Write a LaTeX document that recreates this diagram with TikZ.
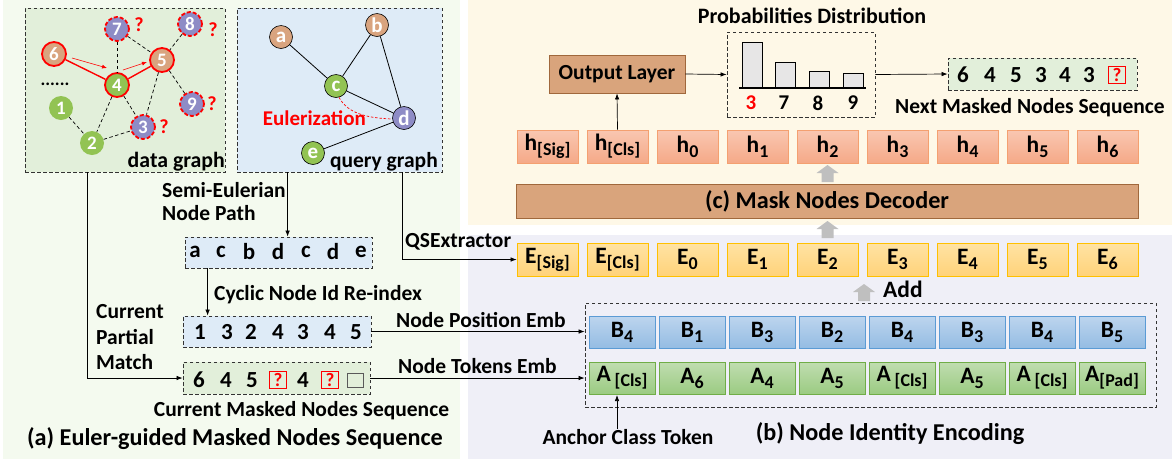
\documentclass[tikz,border=0pt]{standalone}
\usepackage{fontspec}
\setmainfont{Carlito}
\usetikzlibrary{arrows.meta,calc}

\definecolor{bgA}{HTML}{F4FAEF}
\definecolor{bgC}{HTML}{FEF8E7}
\definecolor{bgB}{HTML}{EFEFF7}
\definecolor{boxG}{HTML}{E2EFDA}
\definecolor{boxBl}{HTML}{DEEBF7}
\definecolor{tanN}{HTML}{D9A47F}
\definecolor{grnN}{HTML}{92C353}
\definecolor{purN}{HTML}{8E8CC6}
\definecolor{brownF}{HTML}{D9A47C}
\definecolor{brownD}{HTML}{A0683C}
\definecolor{hTop}{HTML}{F9C7B1}
\definecolor{hBot}{HTML}{F5A988}
\definecolor{hDr}{HTML}{F4A070}
\definecolor{eTop}{HTML}{FFE3A3}
\definecolor{eBot}{HTML}{FFD27A}
\definecolor{eDr}{HTML}{FFC000}
\definecolor{bTop}{HTML}{BDD5EE}
\definecolor{bBot}{HTML}{94BCE3}
\definecolor{bDr}{HTML}{5B9BD5}
\definecolor{aTop}{HTML}{C0DDB0}
\definecolor{aBot}{HTML}{9BCB82}
\definecolor{aDr}{HTML}{70AD47}
\definecolor{barG}{HTML}{E7E6E6}
\definecolor{arrG}{HTML}{BFBFBF}
\definecolor{qRed}{HTML}{FF0000}

\newcommand\lblfont{\fontsize{23.5}{24}\selectfont\bfseries}
\newcommand\txtfont{\fontsize{21.5}{24}\selectfont\bfseries}
\newcommand\capfont{\fontsize{24.2}{26}\selectfont\bfseries}
\newcommand\seqfont{\fontsize{23}{23}\selectfont\bfseries}
\newcommand\lowsub[1]{\raisebox{-5pt}{\fontsize{18}{18}\selectfont #1}}

\tikzset{
  arr/.style={-{Latex[length=6pt,width=4.5pt]}, line width=0.7pt, draw=black},
  dashbox/.style={draw=black!80, dash pattern=on 3.5pt off 2.5pt, line width=0.8pt, inner sep=0},
  gnode/.style={circle, inner sep=0, minimum size=24pt, text=white, font=\fontsize{19}{19}\selectfont\bfseries},
  matched/.style={draw=qRed, line width=1.8pt},
  cand/.style={draw=qRed, line width=1.8pt, dash pattern=on 4pt off 2pt},
  qnode/.style={gnode, minimum size=23pt, draw=black, line width=0.6pt, font=\fontsize{21}{21}\selectfont\bfseries},
  dedge/.style={draw=black, line width=0.7pt, dash pattern=on 3.5pt off 2.5pt},
  qedge/.style={draw=black, line width=0.8pt},
  txt/.style={font=\txtfont, inner sep=0},
  cell/.style={line width=0.8pt, inner sep=0, font=\lblfont},
  hcell/.style={cell, draw=hDr, top color=hTop, bottom color=hBot, minimum width=61pt, minimum height=33pt},
  ecell/.style={cell, draw=eDr, top color=eTop, bottom color=eBot, minimum width=61pt, minimum height=33pt},
  bcell/.style={cell, draw=bDr, top color=bTop, bottom color=bBot, minimum width=66pt, minimum height=32pt},
  acell/.style={cell, draw=aDr, top color=aTop, bottom color=aBot, minimum width=66pt, minimum height=32pt},
  brownbox/.style={draw=brownD, line width=0.9pt, fill=brownF, inner sep=0},
  qmark/.style={draw=qRed, line width=0.6pt, minimum width=17.5pt, minimum height=17pt, inner sep=0, text=qRed, font=\fontsize{19}{19}\selectfont\bfseries},
  seqitem/.style={font=\seqfont, inner sep=0},
  bar/.style={draw=black, line width=1pt, fill=barG},
  redq/.style={text=qRed, font=\fontsize{20}{20}\selectfont\bfseries, inner sep=0},
  uparrow/.pic={\fill[arrG] (-6,0) -- (-6,-9) -- (-11,-9) -- (0,-17) -- (11,-9) -- (6,-9) -- (6,0) -- cycle;}
}

\begin{document}
\begin{tikzpicture}[x=1pt,y=-1pt]
\useasboundingbox (0,0) rectangle (1172,459);

% panel backgrounds
\fill[bgA] (3,0) rectangle (460,459);
\fill[bgC] (468,0) rectangle (1172,225);
\fill[bgB] (468,235) rectangle (1172,459);

% ---------- data graph ----------
\node[dashbox, fill=boxG, minimum width=200pt, minimum height=164pt] (dg) at (125,90) {};
\node[gnode, fill=tanN, matched] (n6) at (54,54) {6};
\node[gnode, fill=purN, cand] (n7) at (117,29) {7};
\node[gnode, fill=purN, cand] (n8) at (190,24) {8};
\node[gnode, fill=tanN, matched] (n5) at (162,60) {5};
\node[gnode, fill=grnN, matched] (n4) at (117,85) {4};
\node[gnode, fill=grnN] (n1) at (61,108) {1};
\node[gnode, fill=grnN] (n2) at (92,143) {2};
\node[gnode, fill=purN, cand] (n3) at (143,127) {3};
\node[gnode, fill=purN, cand] (n9) at (192,104) {9};
\draw[dedge] (n7) -- (n4);
\draw[dedge] (n7) -- (n5);
\draw[dedge] (n8) -- (n5);
\draw[dedge] (n5) -- (n9);
\draw[dedge] (n5) -- (n3);
\draw[dedge] (n4) -- (n3);
\draw[dedge] (n4) -- (n2);
\draw[dedge] (n1) -- (n2);
\draw[dedge] (n2) -- (n3);
\draw[qRed, line width=1.4pt] (n6) -- (n4);
\draw[qRed, line width=1.4pt] (n4) -- (n5);
\coordinate (f1s) at (72,58);
\coordinate (f1e) at (107,68);
\coordinate (f2s) at (123,70);
\coordinate (f2e) at (147,62);
\draw[qRed, line width=0.6pt, -{Latex[length=5pt,width=4pt]}] (f1s) -- (f1e);
\draw[qRed, line width=0.6pt, -{Latex[length=5pt,width=4pt]}] (f2s) -- (f2e);
\node[redq] (q7) at (139,25) {?};
\node[redq] (q8) at (213,30) {?};
\node[redq] (q9) at (212,104) {?};
\node[redq] (q3) at (164,127) {?};
\node[font=\fontsize{18}{18}\selectfont\bfseries, inner sep=0] (dots) at (55,84) {......};
\node[font=\fontsize{21.8}{22}\selectfont\bfseries, inner sep=0, anchor=east] (dgl) at (225,162) {data graph};

% ---------- query graph ----------
\node[dashbox, fill=boxBl, minimum width=205pt, minimum height=164pt] (qg) at (339.5,90) {};
\node[qnode, fill=tanN] (qa) at (281,37) {a};
\node[qnode, fill=tanN] (qb) at (377,25) {b};
\node[qnode, fill=grnN] (qc) at (336,86) {c};
\node[qnode, fill=purN] (qd) at (404,118) {d};
\node[qnode, fill=grnN] (qe) at (313,153) {e};
\draw[qedge] (qa) -- (qc);
\draw[qedge] (qc) -- (qb);
\draw[qedge] (qb) -- (qd);
\draw[qedge] (qc) -- (qd);
\draw[qedge] (qd) -- (qe);
\draw[qRed, line width=0.7pt, dash pattern=on 2.5pt off 1.8pt] (qc.-75) .. controls (348,114) and (368,118) .. (qd.185);
\node[text=qRed, font=\fontsize{21}{21}\selectfont\bfseries, inner sep=0, anchor=east] (eul) at (366,118) {Eulerization};
\node[font=\fontsize{21.5}{22}\selectfont\bfseries, inner sep=0, anchor=east] (qgl) at (438,162) {query graph};

% ---------- sequences of part (a) ----------
\node[txt, anchor=west] (sem1) at (162,190) {Semi-Eulerian};
\node[txt, anchor=west] (sem2) at (162,213) {Node Path};

\node[dashbox, fill=boxBl, minimum width=187pt, minimum height=31pt] (pathseq) at (278.5,252.5) {};
\foreach \t/\x in {a/195,c/221,b/249,d/278,c/306,d/333,e/361}
  \node[seqitem] at (\x,252) {\t};

\node[txt, anchor=west] (cyc) at (214,295) {Cyclic Node Id Re-index};

\node[dashbox, fill=boxBl, minimum width=188pt, minimum height=31pt] (idseq) at (277,331.5) {};
\foreach \t/\x in {1/200,3/227,2/251,4/278,3/303,4/330,5/356}
  \node[seqitem] at (\x,332) {\t};

\node[dashbox, fill=boxG, minimum width=187pt, minimum height=32pt] (curseq) at (276.5,378) {};
\foreach \t/\x in {6/199,4/226,5/252,4/303}
  \node[seqitem] at (\x,380) {\t};
\node[qmark] (cq1) at (278,380) {?};
\node[qmark] (cq2) at (330,380) {?};
\node[draw=black!65, line width=0.8pt, minimum width=16pt, minimum height=14pt, inner sep=0] (cempty) at (355,380) {};

\node[txt] (curlbl) at (301.5,411) {Current Masked Nodes Sequence};
\node[font=\capfont, inner sep=0] (capa) at (235,439) {(a) Euler-guided Masked Nodes Sequence};

\node[txt, anchor=west] (cpm1) at (96,312) {Current};
\node[txt, anchor=west] (cpm2) at (96,337) {Partial};
\node[txt, anchor=west] (cpm3) at (96,362) {Match};

% connectors of part (a)
\draw[arr] ([xshift=63pt]dg.south west) |- (curseq.west);
\draw[arr] ([xshift=51pt]qg.south west) -- ([xshift=103pt]pathseq.north west);
\draw[arr] ([xshift=23pt]pathseq.south west) -- ([xshift=25pt]idseq.north west);

% ---------- part (c): decoder ----------
\node[brownbox, minimum width=136pt, minimum height=38pt, font=\fontsize{21.5}{22}\selectfont\bfseries] (outl) at (617,74) {Output Layer};

\node[dashbox, minimum width=148pt, minimum height=85pt] (hist) at (801,74.5) {};
\node[font=\fontsize{22}{22}\selectfont\bfseries, inner sep=0] (probl) at (812,16) {Probabilities Distribution};
\draw[bar] (742,42) rectangle (762,88);
\draw[bar] (775,62) rectangle (795,88);
\draw[bar] (809,71) rectangle (829,88);
\draw[bar] (843,73) rectangle (863,88);
\draw[black, line width=1.6pt] (739,88) -- (866,88);
\node[font=\fontsize{21}{21}\selectfont\bfseries, text=qRed, inner sep=0] (p3) at (751,103) {3};
\node[font=\fontsize{21}{21}\selectfont\bfseries, inner sep=0] (p7) at (784,103) {7};
\node[font=\fontsize{21}{21}\selectfont\bfseries, inner sep=0] (p8) at (818,103) {8};
\node[font=\fontsize{21}{21}\selectfont\bfseries, inner sep=0] (p9) at (853,103) {9};

\node[dashbox, fill=boxG, minimum width=189pt, minimum height=32pt] (nextseq) at (1042.5,74) {};
\foreach \t/\x in {6/963,4/990,5/1016,3/1041,4/1065,3/1089}
  \node[seqitem] at (\x,75) {\t};
\node[qmark] (nq) at (1117,75) {?};
\node[txt] (nextl) at (1030,108) {Next Masked Nodes Sequence};

\draw[arr] (outl.east) -- (hist.west);
\draw[arr] (hist.east) -- (nextseq.west);

% hidden states
\foreach \lab [count=\i from 0] in {h\lowsub{[Sig]}, h\lowsub{[Cls]}, h\lowsub{0}, h\lowsub{1}, h\lowsub{2}, h\lowsub{3}, h\lowsub{4}, h\lowsub{5}, h\lowsub{6}}
  \node[hcell] (h\i) at (547.5+70*\i,146.5) {\lab};

\draw[arr] (h1.north) -- (outl.south);

\node[brownbox, minimum width=622pt, minimum height=34pt, font=\capfont] (dec) at (827,201) {(c) Mask Nodes Decoder};

\pic at (827.5,182) {uparrow};
\pic at (827.5,238) {uparrow};

% ---------- part (b): node identity encoding ----------
\foreach \lab [count=\i from 0] in {E\lowsub{[Sig]}, E\lowsub{[Cls]}, E\lowsub{0}, E\lowsub{1}, E\lowsub{2}, E\lowsub{3}, E\lowsub{4}, E\lowsub{5}, E\lowsub{6}}
  \node[ecell] (e\i) at (547.5+70*\i,259.5) {\lab};

\node[font=\fontsize{23.5}{24}\selectfont\bfseries, inner sep=0, anchor=west] (addl) at (883,289) {Add};
\pic at (864,301) {uparrow};

\node[dashbox, minimum width=571pt, minimum height=104pt] (enc) at (870.5,355) {};

\foreach \lab [count=\i from 0] in {B\lowsub{4}, B\lowsub{1}, B\lowsub{3}, B\lowsub{2}, B\lowsub{4}, B\lowsub{3}, B\lowsub{4}, B\lowsub{5}}
  \node[bcell] (b\i) at (622+70*\i,332) {\lab};

\foreach \lab [count=\i from 0] in {A\,\lowsub{[Cls]}, A\lowsub{6}, A\lowsub{4}, A\lowsub{5}, A\,\lowsub{[Cls]}, A\lowsub{5}, A\,\lowsub{[Cls]}, A\lowsub{[Pad]}}
  \node[acell] (a\i) at (622+70*\i,378) {\lab};

\node[txt] (anchl) at (628,437) {Anchor Class Token};
\coordinate (atip) at (617,395);
\draw[arr] (anchl.north -| atip) -- (atip);

\node[font=\capfont, inner sep=0] (capb) at (890,434) {(b) Node Identity Encoding};

% connectors into part (b)
\draw[arr] ([xshift=166pt]qg.south west) |- (e0.west);
\node[txt, anchor=west] (qsl) at (405,242) {QSExtractor};
\draw[arr] (idseq.east) -- (enc.west |- idseq.east);
\node[txt, anchor=west] (posl) at (396,320) {Node Position Emb};
\draw[arr] (curseq.east) -- (enc.west |- curseq.east);
\node[txt, anchor=west] (tokl) at (398,366) {Node Tokens Emb};
\end{tikzpicture}
\end{document}
